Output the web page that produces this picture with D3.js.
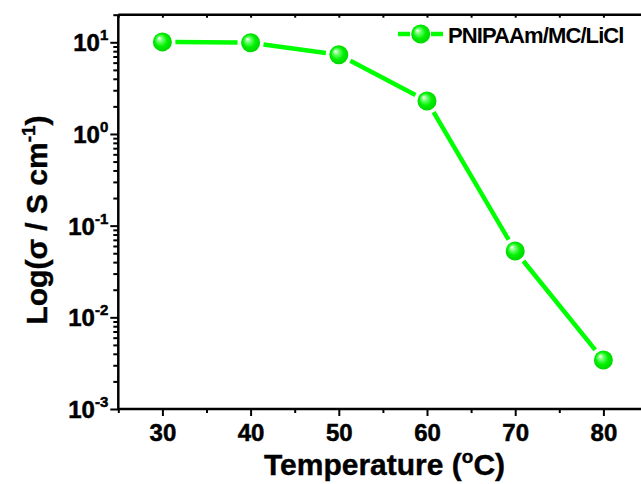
<!DOCTYPE html>
<html><head><meta charset="utf-8">
<script src="https://cdn.jsdelivr.net/npm/d3@7"></script>
<style>
html,body{margin:0;padding:0;background:#fff;}
svg{display:block;font-family:"Liberation Sans",Arial,sans-serif;font-weight:bold;}
</style></head>
<body><svg id="c" width="641" height="484"></svg>
<script>
const temperatures = [30, 40, 50, 60, 70, 80];
const conductivity = [10.1, 9.9, 7.3, 2.29, 0.053, 0.00343];
const seriesName = "PNIPAAm/MC/LiCl";
const xMajorTicks = [30, 40, 50, 60, 70, 80];
const xMinorTicks = [25, 35, 45, 55, 65, 75, 85];
const yMajorTicks = [1e-3, 1e-2, 1e-1, 1e0, 1e1];
const yExponents = [-3, -2, -1, 0, 1];

(function(){
const svg = d3.select("#c");
const L = 118.3, R = 647.5, T = 14.7, B = 409;
const x = d3.scaleLinear().domain([25, 85]).range([L, R]);
const y = d3.scaleLog().domain([1e-3, 20]).range([B, T]);

const green = "#00ff00";
const defs = svg.append("defs");
const g = defs.append("radialGradient").attr("id","ball").attr("cx","50%").attr("cy","50%").attr("r","55%").attr("fx","32%").attr("fy","30%");
g.append("stop").attr("offset","0%").attr("stop-color","#ffffff");
g.append("stop").attr("offset","28%").attr("stop-color","#66ff66");
g.append("stop").attr("offset","60%").attr("stop-color","#00f000");
g.append("stop").attr("offset","100%").attr("stop-color","#00d000");

const yMinor = [];
for (let e = -3; e <= 1; e++) for (let k = 2; k <= 9; k++) { const v = k * Math.pow(10, e); if (v <= 20) yMinor.push(v); }

const bottomAx = svg.append("g").attr("transform", `translate(0,${B})`);
bottomAx.call(d3.axisBottom(x).tickValues(xMajorTicks).tickSize(7).tickSizeOuter(0).tickFormat(d3.format("d")))
  .call(a => a.select(".domain").remove());
bottomAx.attr("font-size", null).attr("font-family", null);
bottomAx.selectAll(".tick line").attr("stroke","#000").attr("stroke-width",2);
bottomAx.selectAll(".tick text").style("font-size","24px").style("font-weight","bold").attr("fill","#000")
  .attr("stroke","#000").attr("stroke-width",0.5).attr("dy","0.71em").attr("y",15);
const bottomMinor = svg.append("g").attr("transform", `translate(0,${B})`);
bottomMinor.call(d3.axisBottom(x).tickValues(xMinorTicks).tickSize(4).tickFormat(""))
  .call(a => a.select(".domain").remove());
bottomMinor.selectAll(".tick line").attr("stroke","#000").attr("stroke-width",2);

const topAx = svg.append("g").attr("transform", `translate(0,${T})`);
topAx.call(d3.axisBottom(x).tickValues(xMajorTicks.concat(xMinorTicks)).tickSize(3).tickFormat(""))
  .call(a => a.select(".domain").remove());
topAx.selectAll(".tick line").attr("stroke","#000").attr("stroke-width",2);

const leftAx = svg.append("g").attr("transform", `translate(${L},0)`);
leftAx.call(d3.axisLeft(y).tickValues(yMajorTicks).tickSize(8).tickFormat(""))
  .call(a => a.select(".domain").remove());
leftAx.selectAll(".tick line").attr("stroke","#000").attr("stroke-width",2);
const leftMinor = svg.append("g").attr("transform", `translate(${L},0)`);
leftMinor.call(d3.axisLeft(y).tickValues(yMinor).tickSize(5).tickFormat(""))
  .call(a => a.select(".domain").remove());
leftMinor.selectAll(".tick line").attr("stroke","#000").attr("stroke-width",2);

yMajorTicks.forEach((v, i) => {
  const t = svg.append("text").attr("x", L - 10).attr("y", y(v) + 9)
    .attr("text-anchor","end").style("font-size","24px").attr("fill","#000")
    .attr("stroke","#000").attr("stroke-width",0.5);
  t.append("tspan").text("10");
  t.append("tspan").attr("dy",-11).style("font-size","15px").text(yExponents[i]);
});

svg.append("line").attr("x1",L).attr("x2",R).attr("y1",B).attr("y2",B).attr("stroke","#000").attr("stroke-width",2.5);
svg.append("line").attr("x1",L).attr("x2",R).attr("y1",T).attr("y2",T).attr("stroke","#000").attr("stroke-width",2.5);
svg.append("line").attr("x1",L).attr("x2",L).attr("y1",T).attr("y2",B).attr("stroke","#000").attr("stroke-width",2.5);
svg.append("line").attr("x1",R).attr("x2",R).attr("y1",T).attr("y2",B).attr("stroke","#000").attr("stroke-width",2.5);

const rad = 9.5, gap = 3.5;
const pts = temperatures.map((t, i) => [x(t), y(conductivity[i])]);
for (let i = 0; i < pts.length - 1; i++) {
  const [x1, y1] = pts[i], [x2, y2] = pts[i + 1];
  const dx = x2 - x1, dy = y2 - y1, len = Math.hypot(dx, dy);
  const ux = dx / len, uy = dy / len, s = rad + gap;
  svg.append("line").attr("x1", x1 + ux * s).attr("y1", y1 + uy * s)
    .attr("x2", x2 - ux * s).attr("y2", y2 - uy * s)
    .attr("stroke", green).attr("stroke-width", 4.5).attr("stroke-linecap","butt");
}
svg.selectAll("circle.pt").data(temperatures).enter().append("circle")
  .attr("class","pt").attr("cx", d => x(d)).attr("cy", (d, i) => y(conductivity[i]))
  .attr("r", rad).attr("fill","url(#ball)");

const ly = 34;
svg.append("line").attr("x1",398).attr("x2",410).attr("y1",ly).attr("y2",ly).attr("stroke",green).attr("stroke-width",4.5);
svg.append("line").attr("x1",431).attr("x2",443).attr("y1",ly).attr("y2",ly).attr("stroke",green).attr("stroke-width",4.5);
svg.append("circle").attr("cx",420.7).attr("cy",ly).attr("r",rad).attr("fill","url(#ball)");
svg.append("text").attr("x",448).attr("y",ly+8.5).style("font-size","22px").style("letter-spacing","-0.9px").attr("fill","#000")
  .text(seriesName);

const xt = svg.append("text").attr("x",384.5).attr("y",475).attr("text-anchor","middle").style("font-size","30px").attr("fill","#000")
  .attr("stroke","#000").attr("stroke-width",0.4);
xt.append("tspan").text("Temperature (");
xt.append("tspan").attr("dy",-12).style("font-size","19px").text("o");
xt.append("tspan").attr("dy",12).text("C)");

const yt = svg.append("text").attr("transform","translate(47,220) rotate(-90)").attr("text-anchor","middle").style("font-size","30px").attr("fill","#000")
  .attr("stroke","#000").attr("stroke-width",0.4);
yt.append("tspan").text("Log(σ / S cm");
yt.append("tspan").attr("dy",-12).style("font-size","19px").text("-1");
yt.append("tspan").attr("dy",12).text(")");
})();
</script></body></html>
